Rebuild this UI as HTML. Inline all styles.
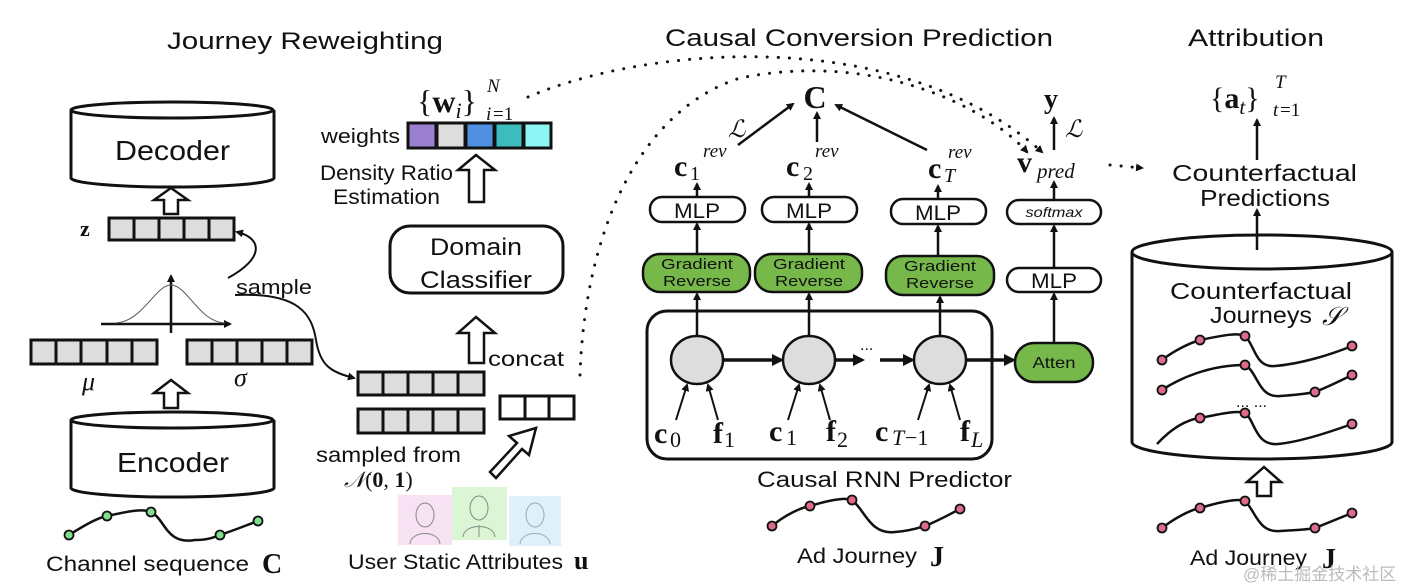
<!DOCTYPE html>
<html><head><meta charset="utf-8"><style>
html,body{margin:0;padding:0;background:#fff;}
svg{display:block;}
.t{font-family:"Liberation Sans",sans-serif;fill:#111;}
.m{font-family:"Liberation Serif",serif;fill:#111;}
</style></head><body>
<svg width="1410" height="588" viewBox="0 0 1410 588" xmlns="http://www.w3.org/2000/svg">
<defs>
<marker id="ah" markerWidth="8" markerHeight="8" refX="6" refY="4" orient="auto" markerUnits="userSpaceOnUse"><path d="M0,0 L8,4 L0,8 Z" fill="#111"/></marker>
<marker id="ah2" markerWidth="12" markerHeight="12" refX="9" refY="6" orient="auto" markerUnits="userSpaceOnUse"><path d="M0,0 L12,6 L0,12 Z" fill="#111"/></marker>
</defs>

<!-- Titles -->
<text class="t" x="167" y="49" font-size="24" textLength="276" lengthAdjust="spacingAndGlyphs">Journey Reweighting</text>
<text class="t" x="665" y="46" font-size="24" textLength="388" lengthAdjust="spacingAndGlyphs">Causal Conversion Prediction</text>
<text class="t" x="1188" y="46" font-size="24" textLength="136" lengthAdjust="spacingAndGlyphs">Attribution</text>

<!-- Decoder cylinder -->
<g fill="#fff" stroke="#111" stroke-width="3">
<path d="M71,110 L71,178 A101,9 0 0 0 274,178 L274,110"/>
<ellipse cx="172" cy="110" rx="101" ry="8"/>
</g>
<text class="t" x="115" y="160" font-size="28" textLength="115" lengthAdjust="spacingAndGlyphs">Decoder</text>
<path d="M164,214 L164,200 L154,200 L171,188 L188,200 L178,200 L178,214 Z" fill="#fff" stroke="#111" stroke-width="2.5"/>
<text class="m" x="80" y="236" font-size="22" font-weight="bold">z</text>
<g stroke="#111" stroke-width="3" fill="#ddd">
<rect x="109" y="218" width="125" height="22"/>
<path d="M134,218v22M159,218v22M184,218v22M209,218v22"/>
</g>
<path d="M228,278 C265,258 262,238 237,232" fill="none" stroke="#111" stroke-width="2" marker-end="url(#ah)"/>
<text class="t" x="236" y="294" font-size="20" textLength="76" lengthAdjust="spacingAndGlyphs">sample</text>
<!-- gaussian -->
<path d="M101,324 L230,324" stroke="#111" stroke-width="2.5" marker-end="url(#ah)"/>
<path d="M171,333 L171,276" stroke="#111" stroke-width="2.5" marker-end="url(#ah)"/>
<path d="M115,323 C143,322 155,285 171,285 C187,285 199,322 225,323" fill="none" stroke="#555" stroke-width="1"/>
<!-- mu sigma -->
<g stroke="#111" stroke-width="3" fill="#ddd">
<rect x="31" y="340" width="126" height="24"/>
<path d="M56,340v24M81,340v24M107,340v24M132,340v24"/>
<rect x="187" y="340" width="125" height="24"/>
<path d="M212,340v24M237,340v24M262,340v24M287,340v24"/>
</g>
<text class="m" x="82" y="390" font-size="26" font-style="italic">μ</text>
<text class="m" x="234" y="386" font-size="26" font-style="italic">σ</text>
<path d="M164,408 L164,393 L154,393 L171,380 L188,393 L178,393 L178,408 Z" fill="#fff" stroke="#111" stroke-width="2.5"/>
<!-- Encoder cylinder -->
<g fill="#fff" stroke="#111" stroke-width="3">
<path d="M71,420 L71,488 A101,9 0 0 0 274,488 L274,420"/>
<ellipse cx="172" cy="420" rx="101" ry="8"/>
</g>
<text class="t" x="117" y="472" font-size="28" textLength="112" lengthAdjust="spacingAndGlyphs">Encoder</text>
<!-- channel sequence -->
<path d="M69,535 C85,525 97,518 107,516 C125,512 143,508 151,512 C166,520 166,545 195,540 C207,540 212,538 220,535 C235,530 247,525 258,521" fill="none" stroke="#111" stroke-width="2.5"/>
<g fill="#7ee08a" stroke="#111" stroke-width="1.8">
<circle cx="69" cy="535" r="4.5"/><circle cx="107" cy="516" r="4.5"/><circle cx="151" cy="512" r="4.5"/><circle cx="220" cy="535" r="4.5"/><circle cx="258" cy="521" r="4.5"/>
</g>
<text class="t" x="46" y="571" font-size="21" textLength="203" lengthAdjust="spacingAndGlyphs">Channel sequence</text>
<text class="m" x="262" y="573" font-size="28" font-weight="bold">C</text>

<!-- weights -->
<text class="m" x="417" y="112" font-size="32">{<tspan font-weight="bold">w</tspan><tspan font-style="italic" font-size="22" dy="6">i</tspan><tspan dy="-6">}</tspan></text>
<text class="m" x="487" y="92" font-size="19" font-style="italic">N</text>
<text class="m" x="486" y="120" font-size="19" font-style="italic">i</text><text class="m" x="493" y="120" font-size="19">=1</text>
<text class="t" x="321" y="143" font-size="20" textLength="79" lengthAdjust="spacingAndGlyphs">weights</text>
<g stroke="#111" stroke-width="3">
<rect x="408" y="123" width="28" height="25" fill="#9b7fd0"/>
<rect x="437" y="123" width="28" height="25" fill="#ddd"/>
<rect x="466" y="123" width="28" height="25" fill="#4f8fe0"/>
<rect x="495" y="123" width="28" height="25" fill="#3cbcbc"/>
<rect x="524" y="123" width="27" height="25" fill="#8ef5f5"/>
</g>
<text class="t" x="320" y="180" font-size="21" textLength="133" lengthAdjust="spacingAndGlyphs">Density Ratio</text>
<text class="t" x="333" y="204" font-size="21" textLength="107" lengthAdjust="spacingAndGlyphs">Estimation</text>
<path d="M469,202 L469,170 L458,170 L476,155 L495,170 L484,170 L484,202 Z" fill="#fff" stroke="#111" stroke-width="2.5"/>
<!-- Domain classifier -->
<rect x="390" y="226" width="173" height="67" rx="20" fill="#fff" stroke="#111" stroke-width="3"/>
<text class="t" x="476" y="255" font-size="24" text-anchor="middle" textLength="92" lengthAdjust="spacingAndGlyphs">Domain</text>
<text class="t" x="476" y="288" font-size="24" text-anchor="middle" textLength="112" lengthAdjust="spacingAndGlyphs">Classifier</text>
<path d="M469,363 L469,333 L458,333 L476,317 L495,333 L484,333 L484,363 Z" fill="#fff" stroke="#111" stroke-width="2.5"/>
<text class="t" x="488" y="366" font-size="21" textLength="76" lengthAdjust="spacingAndGlyphs">concat</text>
<!-- sample curve to vector -->
<path d="M235,295 C300,292 312,315 316,340 C320,365 330,372 354,378" fill="none" stroke="#111" stroke-width="2" marker-end="url(#ah)"/>
<g stroke="#111" stroke-width="3" fill="#ddd">
<rect x="358" y="372" width="126" height="23"/>
<path d="M383,372v23M408,372v23M433,372v23M458,372v23"/>
<rect x="358" y="409" width="126" height="24"/>
<path d="M383,409v24M408,409v24M433,409v24M458,409v24"/>
<rect x="500" y="396" width="74" height="23" fill="#fff"/>
<path d="M525,396v23M549,396v23"/>
</g>
<text class="t" x="316" y="462" font-size="21" textLength="145" lengthAdjust="spacingAndGlyphs">sampled from</text>
<text class="m" x="344" y="487" font-size="22"><tspan font-style="italic">𝒩</tspan>(<tspan font-weight="bold">0</tspan>, <tspan font-weight="bold">1</tspan>)</text>
<!-- diagonal hollow arrow -->
<path d="M490,472 L517,443 L509,436 L536,428 L529,455 L522,449 L496,478 Z" fill="#fff" stroke="#111" stroke-width="2.5"/>
<!-- user icons -->
<rect x="398" y="495" width="54" height="50" fill="#f7e2f4"/>
<rect x="452" y="487" width="55" height="53" fill="#dcf5d4"/>
<rect x="509" y="496" width="52" height="50" fill="#dff0fa"/>
<g fill="none" stroke="#888" stroke-width="1">
<ellipse cx="425" cy="515" rx="9" ry="12"/><path d="M410,544 C411,530 439,530 440,544"/>
<ellipse cx="479" cy="508" rx="9" ry="12"/><path d="M463,537 C464,523 494,523 495,537 M479,525 L479,537"/>
<ellipse cx="535" cy="515" rx="9" ry="12" stroke="#9ab"/><path d="M520,544 C521,530 549,530 550,544" stroke="#9ab"/>
</g>
<text class="t" x="348" y="569" font-size="21" textLength="215" lengthAdjust="spacingAndGlyphs">User Static Attributes</text>
<text class="m" x="574" y="569" font-size="26" font-weight="bold">u</text>

<!-- dotted curves -->
<path d="M528,97 C650,45 900,25 1042,152" fill="none" stroke="#111" stroke-width="3" stroke-dasharray="0.1 11" stroke-linecap="round" marker-end="url(#ah)"/>
<path d="M580,375 C585,230 640,110 740,78 C880,50 990,110 1027,152" fill="none" stroke="#111" stroke-width="3" stroke-dasharray="0.1 11" stroke-linecap="round" marker-end="url(#ah)"/>
<path d="M1110,165 L1142,168" fill="none" stroke="#111" stroke-width="3" stroke-dasharray="0.1 11" stroke-linecap="round" marker-end="url(#ah)"/>

<!-- Causal conversion -->
<text class="m" x="815" y="108" font-size="32" font-weight="bold" text-anchor="middle">C</text>
<text class="m" x="728" y="137" font-size="24" font-style="italic">ℒ</text>
<g stroke="#111" stroke-width="2.5" fill="none" marker-end="url(#ah)">
<path d="M738,145 L793,104"/>
<path d="M817,142 L817,113"/>
<path d="M927,150 L836,105"/>
</g>
<g class="m">
<text x="674" y="176" font-size="30" font-weight="bold">c</text><text x="690" y="180" font-size="20">1</text><text x="703" y="157" font-size="19" font-style="italic">rev</text>
<text x="786" y="176" font-size="30" font-weight="bold">c</text><text x="803" y="180" font-size="20">2</text><text x="815" y="157" font-size="19" font-style="italic">rev</text>
<text x="928" y="178" font-size="30" font-weight="bold">c</text><text x="944" y="182" font-size="20" font-style="italic">T</text><text x="948" y="158" font-size="19" font-style="italic">rev</text>
</g>
<!-- MLPs -->
<g fill="#fff" stroke="#111" stroke-width="2.5">
<rect x="650" y="197" width="95" height="25" rx="12"/>
<rect x="762" y="197" width="95" height="25" rx="12"/>
<rect x="891" y="199" width="95" height="25" rx="12"/>
<rect x="1007" y="200" width="94" height="24" rx="12"/>
<rect x="1007" y="268" width="94" height="24" rx="12"/>
</g>
<text class="t" x="697" y="218" font-size="21" text-anchor="middle" textLength="46" lengthAdjust="spacingAndGlyphs">MLP</text>
<text class="t" x="809" y="218" font-size="21" text-anchor="middle" textLength="46" lengthAdjust="spacingAndGlyphs">MLP</text>
<text class="t" x="938" y="220" font-size="21" text-anchor="middle" textLength="46" lengthAdjust="spacingAndGlyphs">MLP</text>
<text class="t" x="1054" y="217" font-size="14" font-style="italic" text-anchor="middle" textLength="57" lengthAdjust="spacingAndGlyphs">softmax</text>
<text class="t" x="1054" y="288" font-size="21" text-anchor="middle" textLength="46" lengthAdjust="spacingAndGlyphs">MLP</text>
<!-- Gradient reverse -->
<g fill="#76b94a" stroke="#111" stroke-width="2.5">
<rect x="643" y="254" width="107" height="38" rx="17"/>
<rect x="755" y="254" width="107" height="38" rx="17"/>
<rect x="886" y="256" width="108" height="39" rx="17"/>
<rect x="1015" y="343" width="78" height="39" rx="19"/>
</g>
<g class="t" font-size="15" text-anchor="middle">
<text x="697" y="269" textLength="72" lengthAdjust="spacingAndGlyphs">Gradient</text><text x="697" y="286" textLength="68" lengthAdjust="spacingAndGlyphs">Reverse</text>
<text x="809" y="269" textLength="72" lengthAdjust="spacingAndGlyphs">Gradient</text><text x="809" y="286" textLength="68" lengthAdjust="spacingAndGlyphs">Reverse</text>
<text x="940" y="271" textLength="72" lengthAdjust="spacingAndGlyphs">Gradient</text><text x="940" y="288" textLength="68" lengthAdjust="spacingAndGlyphs">Reverse</text>
<text x="1054" y="368" font-size="16" textLength="43" lengthAdjust="spacingAndGlyphs">Atten</text>
</g>
<!-- vertical arrows -->
<g stroke="#111" stroke-width="2.5" fill="none" marker-end="url(#ah)">
<path d="M697,197 L697,184"/><path d="M809,197 L809,184"/><path d="M938,199 L938,186"/>
<path d="M697,254 L697,224"/><path d="M809,254 L809,224"/><path d="M938,256 L938,226"/>
<path d="M1054,343 L1054,294"/><path d="M1054,268 L1054,226"/><path d="M1054,200 L1054,182"/>
<path d="M1054,150 L1054,118"/>
<path d="M697,336 L697,294"/><path d="M809,336 L809,294"/><path d="M940,336 L940,297"/>
</g>
<!-- RNN box -->
<rect x="647" y="311" width="345" height="148" rx="20" fill="none" stroke="#111" stroke-width="3"/>
<g fill="#ddd" stroke="#111" stroke-width="2.5">
<ellipse cx="697" cy="360" rx="26" ry="24"/>
<ellipse cx="809" cy="360" rx="26" ry="24"/>
<ellipse cx="940" cy="360" rx="26" ry="24"/>
</g>
<g stroke="#111" stroke-width="3.5" fill="none" marker-end="url(#ah2)">
<path d="M723,360 L781,360"/><path d="M835,360 L862,360"/><path d="M880,360 L912,360"/><path d="M966,360 L1013,360"/>
</g>
<text class="t" x="860" y="350" font-size="16">...</text>
<g stroke="#111" stroke-width="2" fill="none" marker-end="url(#ah)">
<path d="M676,420 L687,385"/><path d="M718,420 L708,385"/>
<path d="M788,420 L799,385"/><path d="M830,420 L820,385"/>
<path d="M918,420 L929,385"/><path d="M960,420 L950,385"/>
</g>
<g class="m">
<text x="654" y="443" font-size="30" font-weight="bold">c</text><text x="670" y="447" font-size="22">0</text>
<text x="713" y="443" font-size="30" font-weight="bold">f</text><text x="724" y="447" font-size="22">1</text>
<text x="769" y="441" font-size="30" font-weight="bold">c</text><text x="786" y="445" font-size="22">1</text>
<text x="826" y="441" font-size="30" font-weight="bold">f</text><text x="837" y="447" font-size="22">2</text>
<text x="875" y="441" font-size="30" font-weight="bold">c</text><text x="892" y="445" font-size="22" font-style="italic">T</text><text x="905" y="445" font-size="22">−1</text>
<text x="960" y="441" font-size="30" font-weight="bold">f</text><text x="971" y="447" font-size="22" font-style="italic">L</text>
</g>
<text class="t" x="757" y="487" font-size="22" textLength="255" lengthAdjust="spacingAndGlyphs">Causal RNN Predictor</text>
<!-- ad journey -->
<path d="M772,526 C785,515 800,508 810,506 C830,500 845,497 852,500 C865,510 870,535 895,532 C910,531 918,528 925,526 C940,520 950,514 960,509" fill="none" stroke="#111" stroke-width="2.5"/>
<g fill="#e06a8a" stroke="#111" stroke-width="1.8">
<circle cx="772" cy="526" r="4.5"/><circle cx="810" cy="506" r="4.5"/><circle cx="852" cy="500" r="4.5"/><circle cx="925" cy="526" r="4.5"/><circle cx="960" cy="509" r="4.5"/>
</g>
<text class="t" x="797" y="563" font-size="21" textLength="120" lengthAdjust="spacingAndGlyphs">Ad Journey</text>
<text class="m" x="930" y="566" font-size="28" font-weight="bold">J</text>

<!-- y, v_pred -->
<text class="m" x="1044" y="108" font-size="28" font-weight="bold">y</text>
<text class="m" x="1065" y="137" font-size="24" font-style="italic">ℒ</text>
<text class="m" x="1017" y="172" font-size="30" font-weight="bold">v</text>
<text class="m" x="1037" y="178" font-size="21" font-style="italic">pred</text>

<!-- Attribution -->
<text class="m" x="1210" y="108" font-size="30">{<tspan font-weight="bold">a</tspan><tspan font-style="italic" font-size="21" dy="6">t</tspan><tspan dy="-6">}</tspan></text>
<text class="m" x="1275" y="88" font-size="19" font-style="italic">T</text>
<text class="m" x="1273" y="116" font-size="19" font-style="italic">t</text><text class="m" x="1280" y="116" font-size="19">=1</text>
<g stroke="#111" stroke-width="2.5" fill="none" marker-end="url(#ah)">
<path d="M1257,160 L1257,120"/>
</g>
<text class="t" x="1172" y="181" font-size="23" textLength="185" lengthAdjust="spacingAndGlyphs">Counterfactual</text>
<text class="t" x="1200" y="206" font-size="23" textLength="130" lengthAdjust="spacingAndGlyphs">Predictions</text>
<g fill="#fff" stroke="#111" stroke-width="3">
<path d="M1132,252 L1132,442 A130,17 0 0 0 1392,442 L1392,252"/>
<ellipse cx="1262" cy="252" rx="130" ry="17"/>
</g>
<path d="M1257,250 L1257,210" stroke="#111" stroke-width="2.5" marker-end="url(#ah)"/>
<text class="t" x="1170" y="299" font-size="23" textLength="182" lengthAdjust="spacingAndGlyphs">Counterfactual</text>
<text class="t" x="1210" y="323" font-size="23" textLength="102" lengthAdjust="spacingAndGlyphs">Journeys</text>
<text class="m" x="1322" y="325" font-size="26" font-style="italic">𝒮</text>
<g fill="none" stroke="#111" stroke-width="2.5">
<path d="M1162,360 C1175,350 1190,343 1200,340 C1220,336 1238,332 1245,336 C1255,345 1255,368 1275,366 C1300,364 1330,355 1352,346"/>
<path d="M1162,390 C1180,378 1210,365 1245,365 C1258,372 1258,398 1280,396 C1295,395 1305,394 1315,392 C1330,386 1342,380 1352,375"/>
<path d="M1157,444 C1170,430 1185,420 1200,418 C1220,414 1238,410 1245,413 C1255,420 1255,446 1278,444 C1300,442 1330,432 1352,424"/>
<path d="M1162,528 C1175,518 1190,510 1200,508 C1220,502 1238,498 1245,501 C1255,510 1258,533 1280,531 C1295,530 1305,530 1315,528 C1330,522 1342,517 1352,513"/>
</g>
<g fill="#e06a8a" stroke="#111" stroke-width="1.8">
<circle cx="1162" cy="360" r="4.5"/><circle cx="1200" cy="340" r="4.5"/><circle cx="1245" cy="336" r="4.5"/><circle cx="1352" cy="346" r="4.5"/>
<circle cx="1162" cy="390" r="4.5"/><circle cx="1245" cy="365" r="4.5"/><circle cx="1315" cy="392" r="4.5"/><circle cx="1352" cy="375" r="4.5"/>
<circle cx="1200" cy="418" r="4.5"/><circle cx="1245" cy="413" r="4.5"/><circle cx="1352" cy="424" r="4.5"/>
<circle cx="1162" cy="528" r="4.5"/><circle cx="1200" cy="508" r="4.5"/><circle cx="1245" cy="501" r="4.5"/><circle cx="1315" cy="528" r="4.5"/><circle cx="1352" cy="513" r="4.5"/>
</g>
<text class="t" x="1236" y="407" font-size="16">... ...</text>
<path d="M1257,496 L1257,482 L1247,482 L1264,467 L1281,482 L1271,482 L1271,496 Z" fill="#fff" stroke="#111" stroke-width="2.5"/>
<text class="t" x="1190" y="565" font-size="21" textLength="117" lengthAdjust="spacingAndGlyphs">Ad Journey</text>
<text class="m" x="1322" y="568" font-size="28" font-weight="bold">J</text>
<text x="1243" y="580" font-size="17" fill="#bbb" font-family="'Liberation Sans','Noto Sans CJK SC',sans-serif">@稀土掘金技术社区</text>
</svg>
</body></html>
